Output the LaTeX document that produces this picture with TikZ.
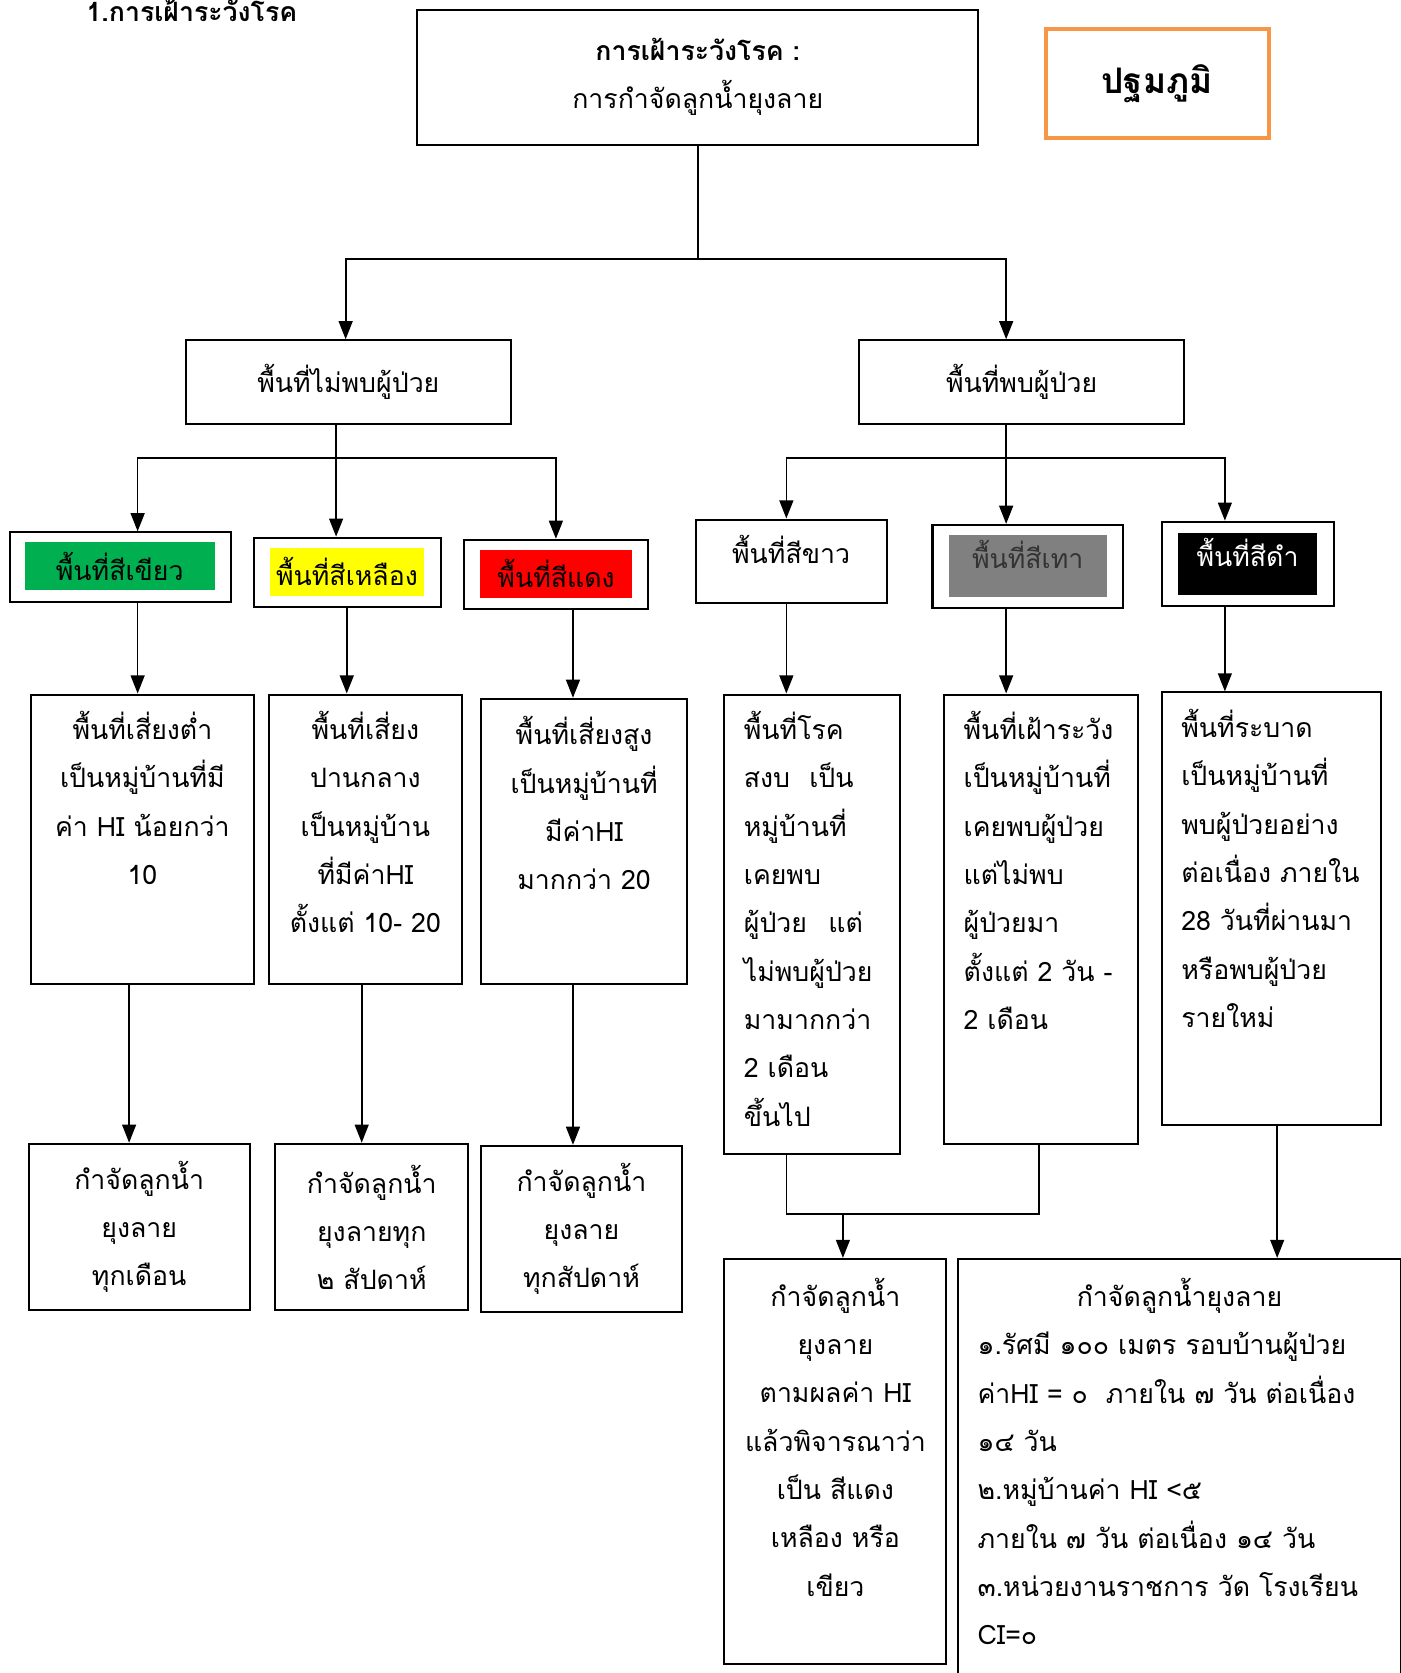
\documentclass[tikz,border=0pt]{standalone}
\usepackage{fontspec}
\setmainfont[Script=Thai]{Loma}
\usetikzlibrary{arrows.meta,calc}
\definecolor{orng}{HTML}{F79646}
\definecolor{grn}{HTML}{00B050}
\definecolor{ylw}{HTML}{FFFF00}
\definecolor{rd}{HTML}{FF0000}
\definecolor{gry}{HTML}{808080}
\newcommand\tstr{\rule{0pt}{1.2em}}
\newcommand\mkbox[7]{\node[box,#6,minimum width={(#4-#2)*1pt},minimum height={(#5-#3)*1pt}] (#1) at (#2,#3) {#7};}
\begin{document}
\begin{tikzpicture}[x=1pt,y=-1pt,
 box/.style={draw, line width=1.9pt, inner sep=0pt, anchor=north west, align=center, font=\fontsize{25}{45}\selectfont},
 fillbox/.style={inner sep=0pt, anchor=north west, font=\fontsize{25}{45}\selectfont},
 ln/.style={line width=1.6pt},
 arr/.style={line width=1.6pt, -{Triangle[length=17pt,width=13pt]}},
 txt/.style={inner sep=0pt, font=\fontsize{25}{45.3}\selectfont},
]
\useasboundingbox (0,0) rectangle (1313,1568);
\clip (0,0) rectangle (1313,1568);
\fill[white] (0,0) rectangle (1313,1568);

% x positions of connectors
\coordinate (c129) at (129,0);
\coordinate (c121) at (121,0);
\coordinate (c315) at (315,0);
\coordinate (c325) at (325,0);
\coordinate (c339) at (339,0);
\coordinate (c521) at (521,0);
\coordinate (c537) at (537,0);
\coordinate (c737) at (737,0);
\coordinate (c943) at (943,0);
\coordinate (c974) at (974,0);
\coordinate (c1148) at (1148,0);
\coordinate (c1197) at (1197,0);

% title
\node[anchor=base west, inner sep=0pt, font=\fontsize{25}{28}\selectfont\bfseries] (title) at (81,20) {1.การเฝ้าระวังโรค};

% top
\mkbox{top}{390}{8}{916}{135}{}{\textbf{การเฝ้าระวังโรค :}\\การกำจัดลูกน้ำยุงลาย}
\mkbox{prim}{978}{25}{1187}{127}{draw=orng, line width=4pt, font=\fontsize{33}{38}\selectfont\bfseries}{ปฐมภูมิ}

% level 2
\mkbox{nf}{173}{318}{478}{396}{}{พื้นที่ไม่พบผู้ป่วย}
\mkbox{pf}{804}{318}{1109}{396}{}{พื้นที่พบผู้ป่วย}

% colour boxes
\mkbox{gO}{8}{498}{216}{563}{}{}
\node[fillbox, fill=grn, minimum width=178pt, minimum height=45pt] (g) at (23,508) {พื้นที่สีเขียว};
\mkbox{yO}{237}{503}{412}{568}{}{}
\node[fillbox, fill=ylw, minimum width=144pt, minimum height=45pt] (y) at (253,513) {พื้นที่สีเหลือง};
\mkbox{rO}{434}{505}{606}{570}{}{}
\node[fillbox, fill=rd, minimum width=142pt, minimum height=45pt] (r) at (450,515) {พื้นที่สีแดง};
\mkbox{w}{651}{486}{830}{564}{}{}
\node[txt, anchor=north] (wt) at ($(w.north)+(0,12)$) {\tstr พื้นที่สีขาว};
\mkbox{gyO}{873}{491}{1052}{569}{}{}
\node[fillbox, fill=gry, minimum width=148pt, minimum height=58pt] (gy) at (889,501) {};
\node[txt, anchor=north, text=black!80] (gyt) at ($(gy.north)+(0,2)$) {\tstr พื้นที่สีเทา};
\mkbox{bkO}{1088}{488}{1249}{567}{}{}
\node[fillbox, fill=black, minimum width=130pt, minimum height=58pt] (bk) at (1104,499) {};
\node[txt, anchor=north, text=white] (bkt) at ($(bk.north)+(0,2)$) {\tstr พื้นที่สีดำ};

% row 3
\mkbox{A}{28}{650}{237}{921}{}{}
\mkbox{B}{251}{650}{432}{921}{}{}
\mkbox{C}{450}{654}{643}{921}{}{}
\mkbox{D}{678}{650}{843}{1081}{}{}
\mkbox{E}{884}{650}{1066}{1071}{}{}
\mkbox{F}{1088}{648}{1293}{1053}{}{}
\node[txt, align=center, anchor=north] (At) at ($(A.north)+(0,13)$) {\tstr พื้นที่เสี่ยงต่ำ\\เป็นหมู่บ้านที่มี\\ค่า HI น้อยกว่า\\10};
\node[txt, align=center, anchor=north] (Bt) at ($(B.north)+(0,13)$) {\tstr พื้นที่เสี่ยง\\ปานกลาง\\เป็นหมู่บ้าน\\ที่มีค่าHI\\ตั้งแต่ 10- 20};
\node[txt, align=center, anchor=north] (Ct) at ($(C.north)+(0,14)$) {\tstr พื้นที่เสี่ยงสูง\\เป็นหมู่บ้านที่\\มีค่าHI\\มากกว่า 20};
\node[txt, align=left, anchor=north west] (Dt) at ($(D.north west)+(19,13)$) {\tstr พื้นที่โรค\\สงบ\hspace{18pt}เป็น\\หมู่บ้านที่\\เคยพบ\\ผู้ป่วย\hspace{20pt}แต่\\ไม่พบผู้ป่วย\\มามากกว่า\\2 เดือน\\ขึ้นไป};
\node[txt, align=left, anchor=north west] (Et) at ($(E.north west)+(19,13)$) {\tstr พื้นที่เฝ้าระวัง\\เป็นหมู่บ้านที่\\เคยพบผู้ป่วย\\แต่ไม่พบ\\ผู้ป่วยมา\\ตั้งแต่ 2 วัน -\\2 เดือน};
\node[txt, align=left, anchor=north west] (Ft) at ($(F.north west)+(19,13)$) {\tstr พื้นที่ระบาด\\เป็นหมู่บ้านที่\\พบผู้ป่วยอย่าง\\ต่อเนื่อง ภายใน\\28 วันที่ผ่านมา\\หรือพบผู้ป่วย\\รายใหม่};

% row 4
\mkbox{A2}{26}{1071}{233}{1227}{}{กำจัดลูกน้ำ\\ยุงลาย\\ทุกเดือน}
\mkbox{B2}{257}{1071}{438}{1227}{}{กำจัดลูกน้ำ\\ยุงลายทุก\\๒ สัปดาห์}
\mkbox{C2}{450}{1073}{638}{1229}{}{กำจัดลูกน้ำ\\ยุงลาย\\ทุกสัปดาห์}
\mkbox{G}{678}{1179}{886}{1559}{}{}
\mkbox{H}{897}{1179}{1312}{1600}{}{}
\node[txt, align=center, anchor=north] (Gt) at ($(G.north)+(0,15)$) {\tstr กำจัดลูกน้ำ\\ยุงลาย\\ตามผลค่า HI\\แล้วพิจารณาว่า\\เป็น สีแดง\\เหลือง หรือ\\เขียว};
\node[txt, anchor=north] (Ht1) at ($(H.north)+(0,15)$) {\tstr กำจัดลูกน้ำยุงลาย};
\node[txt, align=left, anchor=north west] (Ht2) at ($(H.north west)+(19,60.5)$) {\tstr ๑.รัศมี ๑๐๐ เมตร รอบบ้านผู้ป่วย\\ค่าHI = ๐~~ภายใน ๗ วัน ต่อเนื่อง\\๑๔ วัน\\๒.หมู่บ้านค่า HI <๕\\ภายใน ๗ วัน ต่อเนื่อง ๑๔ วัน\\๓.หน่วยงานราชการ วัด โรงเรียน\\CI=๐};

% connectors
\draw[ln] (top.south) -- (top.south |- 0,243) coordinate (jt);
\draw[arr] (jt) -| ([xshift=-2.5pt]nf.north);
\draw[arr] (jt) -| (pf.north -| c943);

\draw[ln] (nf.south -| c315) -- (c315 |- 0,429) coordinate (jl);
\draw[arr] (jl) -| (gO.north -| c129);
\draw[arr] (jl) -- (yO.north -| jl);
\draw[arr] (jl) -| (rO.north -| c521);

\draw[ln] (pf.south -| c943) -- (c943 |- 0,429) coordinate (jr);
\draw[arr] (jr) -| (w.north -| c737);
\draw[arr] (jr) -- (gyO.north -| jr);
\draw[arr] (jr) -| (bkO.north -| c1148);

\draw[arr] (gO.south -| c129) -- (A.north -| c129);
\draw[arr] (yO.south -| c325) -- (B.north -| c325);
\draw[arr] (rO.south -| c537) -- (C.north -| c537);
\draw[arr] (w.south -| c737) -- (D.north -| c737);
\draw[arr] (gyO.south -| c943) -- (E.north -| c943);
\draw[arr] (bkO.south -| c1148) -- (F.north -| c1148);

\draw[arr] (A.south -| c121) -- (A2.north -| c121);
\draw[arr] (B.south -| c339) -- (B2.north -| c339);
\draw[arr] (C.south -| c537) -- (C2.north -| c537);
\draw[ln] (D.south -| c737) -- (c737 |- 0,1138) -| (E.south -| c974);
\coordinate (jm) at (790,1138);
\draw[arr] (jm) -- (G.north -| jm);
\draw[arr] (F.south -| c1197) -- (H.north -| c1197);
\end{tikzpicture}
\end{document}
